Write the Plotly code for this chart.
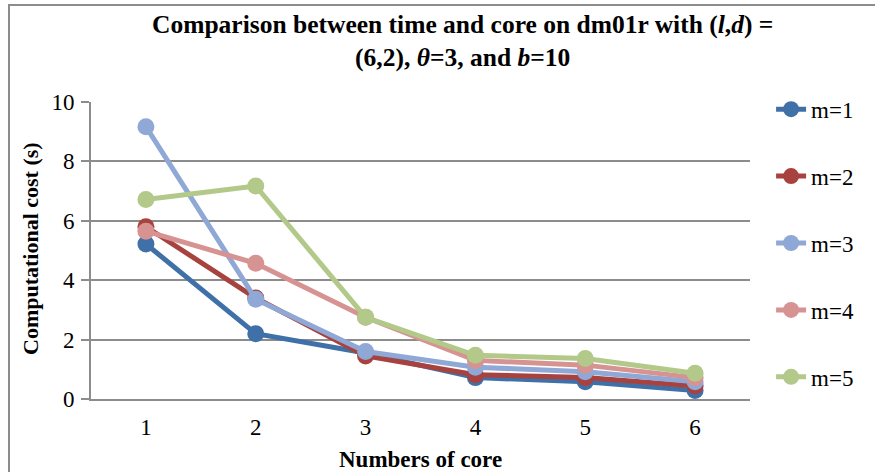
import plotly.graph_objects as go

cores = [1, 2, 3, 4, 5, 6]
m1 = [5.22, 2.2, 1.55, 0.72, 0.58, 0.29]
m2 = [5.8, 3.4, 1.45, 0.82, 0.72, 0.44]
m3 = [9.17, 3.36, 1.6, 1.07, 0.92, 0.58]
m4 = [5.65, 4.57, 2.75, 1.3, 1.14, 0.72]
m5 = [6.72, 7.17, 2.75, 1.47, 1.36, 0.87]
series_names = ["m=1", "m=2", "m=3", "m=4", "m=5"]
colors = ["#4070A8", "#A8423F", "#8FA8D6", "#D69391", "#B2C98A"]

fig = go.Figure()
for name, vals, col in zip(series_names, [m1, m2, m3, m4, m5], colors):
    fig.add_trace(go.Scatter(
        x=cores, y=vals, name=name, mode="lines+markers",
        line=dict(color=col, width=5),
        marker=dict(color=col, size=17),
        legendgroup=name,
    ))

serif = "'Liberation Serif', 'Times New Roman', Times, serif"
fig.update_layout(
    width=875, height=472,
    margin=dict(l=91, r=125, t=102, b=73),
    paper_bgcolor="white", plot_bgcolor="white",
    font=dict(family=serif, color="black", size=23),
    showlegend=True,
    legend=dict(x=1.032, y=1.048, xanchor="left", yanchor="top",
                font=dict(size=23, family=serif, color="black"), tracegroupgap=34,
                bgcolor="rgba(0,0,0,0)", maxheight=470),
    xaxis=dict(range=[0.5, 6.5], tickmode="array", tickvals=cores,
               ticktext=[str(c) for c in cores], showgrid=False,
               showline=True, linecolor="#8C8C8C", linewidth=2,
               ticks="", zeroline=False, ticklabelstandoff=6,
               tickfont=dict(size=23, family=serif, color="black")),
    yaxis=dict(range=[0, 10], dtick=2, showgrid=True, gridcolor="#8C8C8C",
               gridwidth=2, showline=True, linecolor="#8C8C8C", linewidth=2,
               ticks="outside", ticklen=8, tickcolor="#8C8C8C", tickwidth=2,
               zeroline=False, ticklabelstandoff=2,
               tickfont=dict(size=23, family=serif, color="black")),
)

fig.add_annotation(
    text="<b>Comparison between time and core on dm01r with (<i>l</i>,<i>d</i>) =<br>(6,2), <i>θ</i>=3, and <i>b</i>=10</b>",
    xref="paper", yref="paper", x=0.563, y=(399 - 41) / 297,
    xanchor="center", yanchor="middle", showarrow=False,
    font=dict(size=25.5, family=serif, color="black"), align="center",
)
fig.add_annotation(
    text="<b>Computational cost (s)</b>", textangle=-90,
    xref="paper", yref="paper", x=(30 - 91) / 659, y=(399 - 249) / 297,
    xanchor="center", yanchor="middle", showarrow=False,
    font=dict(size=22, family=serif, color="black"),
)
fig.add_annotation(
    text="<b>Numbers of core</b>",
    xref="paper", yref="paper", x=0.5, y=(399 - 459) / 297,
    xanchor="center", yanchor="middle", showarrow=False,
    font=dict(size=23, family=serif, color="black"),
)
fig.add_shape(type="rect", xref="paper", yref="paper",
              x0=(9 - 91) / 659, x1=1.5, y0=-0.6, y1=(399 - 5) / 297,
              line=dict(color="#8C8C8C", width=2), layer="below")

fig.write_html("out.html")
